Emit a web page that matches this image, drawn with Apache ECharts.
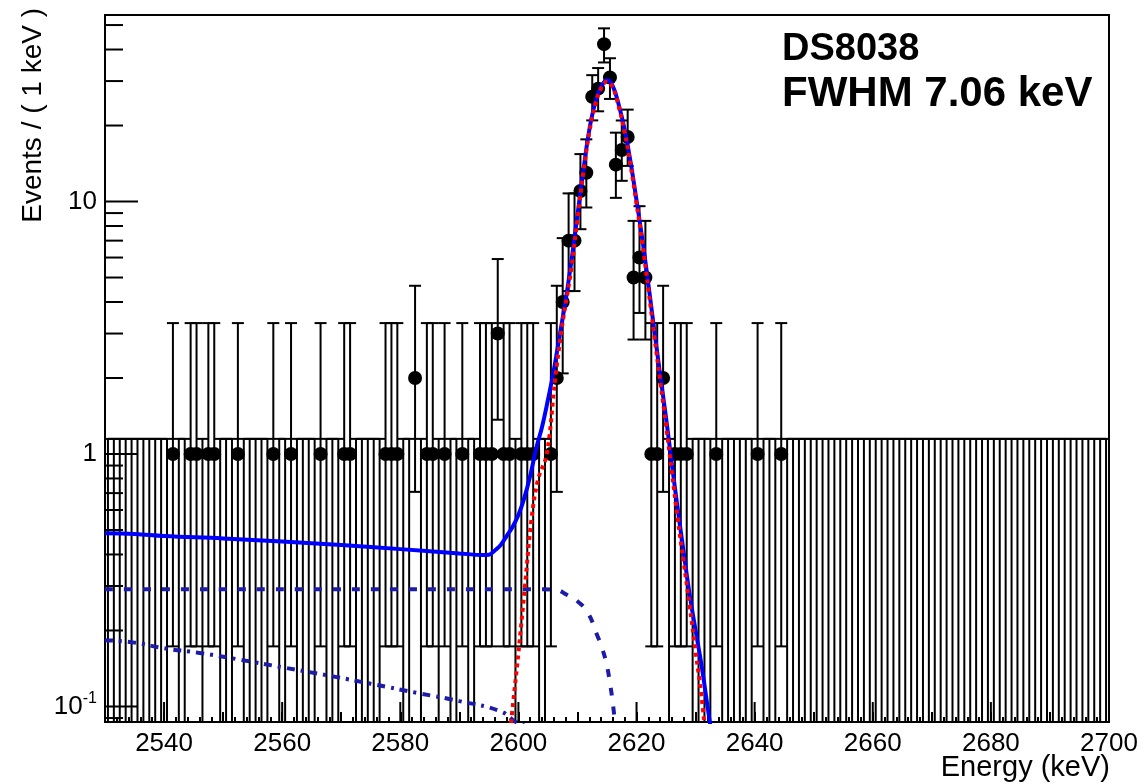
<!DOCTYPE html>
<html><head><meta charset="utf-8">
<script src="https://cdn.jsdelivr.net/npm/echarts@6/dist/echarts.min.js"></script>
<style>html,body{margin:0;padding:0;background:#fff}#c{width:1146px;height:784px}</style>
</head><body><div id="c"></div>
<script>
// ---------- axis ranges ----------
const energyMin = 2530, energyMax = 2700, binWidth = 1;
const yMin = 0.0868, yMax = 54.8;

// ---------- data: events per 1 keV bin (2530-2700) ----------
const eventCounts = [
  0,0,0,0,0,0,0,0,0,0,
  0,1,0,0,1,1,0,1,1,0,
  0,0,1,0,0,0,0,0,1,0,
  0,1,0,0,0,0,1,0,0,0,
  1,1,0,0,0,0,0,1,1,1,
  0,0,2,0,1,1,0,1,0,0,
  1,0,0,1,1,1,3,1,1,0,
  1,1,1,0,0,1,2,4,7,7,
  11,13,26,28,42,31,14,16,18,5,
  6,5,1,1,2,0,1,1,1,0,
  0,0,0,1,0,0,0,0,0,0,
  1,0,0,0,1,0,0,0,0,0,
  0,0,0,0,0,0,0,0,0,0,
  0,0,0,0,0,0,0,0,0,0,
  0,0,0,0,0,0,0,0,0,0,
  0,0,0,0,0,0,0,0,0,0,
  0,0,0,0,0,0,0,0,0,0
];
// Poisson (68%) interval per count, as drawn
const poissonN    = [0, 1, 2, 3, 4, 5, 6, 7, 11, 13, 14, 16, 18, 26, 28, 31, 42];
const poissonLow  = [0, 0.173, 0.708, 1.367, 2.086, 2.840, 3.620, 4.419, 7.77, 9.47, 10.34, 12.08, 13.84, 20.96, 22.77, 25.49, 35.55];
const poissonHigh = [1.148, 3.300, 4.638, 5.918, 7.163, 8.382, 9.584, 10.771, 15.41, 17.63, 18.74, 20.94, 23.12, 31.66, 33.78, 36.94, 48.52];

// ---------- fit curves ----------
const totalFitE = [2530,2535,2540,2550,2560,2570,2580,2590,2594,2595,2596,2597,2598,2599,2600,2601,2602,2603,2604,2605,2606,2607,2608,2609,2610,2611,2612,2613,2614,2615,2616,2617,2618,2619,2620,2621,2622,2623,2624,2625,2626,2627,2628,2629,2630,2631,2632,2633];
const totalFitV = [0.485,0.482,0.473,0.463,0.450,0.436,0.420,0.404,0.398,0.399,0.415,0.436,0.473,0.514,0.573,0.67,0.82,1.05,1.28,1.64,2.15,2.96,4.07,5.87,8.85,13.3,19.2,24.6,28.5,30.3,28.6,24.1,19.2,14.3,10.1,7.04,4.71,3.10,2.06,1.39,0.905,0.60,0.405,0.277,0.20,0.146,0.101,0.07];

const peakFitE = [2598.6,2599.1,2600.0,2601.1,2602.2,2603.3,2604.8,2606.2,2607.3,2608.2,2609,2610,2611,2612,2613,2614,2615,2616,2617,2618,2619,2620,2621,2622,2623,2624,2625,2626,2627,2628,2629,2630,2631,2631.6];
const peakFitV = [0.08,0.103,0.163,0.298,0.548,0.789,1.0,1.96,3.1,4.2,5.5,8.5,13.0,18.8,24.2,28.1,29.9,28.2,23.7,18.8,13.9,9.8,6.8,4.5,2.95,1.95,1.3,0.84,0.55,0.37,0.25,0.165,0.11,0.08];

const stepBkgE = [2530,2604.2,2606.2,2608.2,2610.1,2611.8,2613.2,2614.1,2614.9,2615.5,2616.05,2616.5];
const stepBkgV = [0.291,0.291,0.29,0.277,0.26,0.234,0.195,0.172,0.148,0.124,0.1,0.08];

const linBkgE = [2530,2535,2540,2546,2553,2560,2569,2575,2583,2590,2597,2599.5,2601];
const linBkgV = [0.183,0.179,0.170,0.163,0.153,0.143,0.131,0.123,0.113,0.105,0.0956,0.087,0.084];

// ---------- ticks / labels ----------
const xMajorTicks = [2540,2560,2580,2600,2620,2640,2660,2680,2700];
const yMajorTicks = [0.1, 1, 10];
const yMinorTicks = [0.09,0.2,0.3,0.4,0.5,0.6,0.7,0.8,0.9,2,3,4,5,6,7,8,9,20,30,40,50];
const xTitle = 'Energy (keV)';
const yTitle = 'Events / ( 1 keV )';
const infoLines = ['DS8038', 'FWHM 7.06 keV'];

const FONT = '"Liberation Sans", Arial, Helvetica, sans-serif';

// ---------- build series data ----------
const filledBins = [], emptyBins = [];
eventCounts.forEach((n, i) => {
  const center = energyMin + (i + 0.5) * binWidth;
  const k = poissonN.indexOf(n);
  if (n > 0) filledBins.push([center, n, poissonLow[k], poissonHigh[k]]);
  else emptyBins.push([center, poissonHigh[k]]);
});
const pairs = (a, b) => a.map((e, i) => [e, b[i]]);

const chart = echarts.init(document.getElementById('c'), null, {renderer: 'canvas'});
const black = {stroke: '#000', lineWidth: 2};
const CAP = 6;

const option = {
  animation: false,
  backgroundColor: '#fff',
  grid: {left: 105, top: 15, width: 1004, height: 707, show: true, borderColor: '#000', borderWidth: 2,
    backgroundColor: 'transparent', containLabel: false, outerBoundsMode: 'none'},
  xAxis: {
    type: 'value', min: energyMin, max: energyMax, interval: 10,
    axisLine: {show: true, lineStyle: {color: '#000', width: 2}},
    axisTick: {show: true, inside: true, length: 10, lineStyle: {color: '#000', width: 2}},
    minorTick: {show: true, splitNumber: 5, length: 5, lineStyle: {color: '#000', width: 2}},
    splitLine: {show: false},
    axisLabel: {color: '#000', fontSize: 26, fontFamily: FONT, margin: 9,
      formatter: v => (xMajorTicks.indexOf(v) >= 0 ? String(v) : '')}
  },
  yAxis: {
    type: 'log', logBase: 10, min: yMin, max: yMax,
    axisLine: {show: true, lineStyle: {color: '#000', width: 2}},
    axisTick: {show: false}, minorTick: {show: false}, splitLine: {show: false},
    axisLabel: {color: '#000', fontSize: 26, fontFamily: FONT, margin: 8,
      formatter: v => {
        const l = Math.log10(v), r = Math.round(l);
        if (Math.abs(l - r) > 1e-6) return '';
        if (r === 0) return '1';
        if (r === 1) return '10';
        return '{b|10}{s|' + r + '}';
      },
      rich: {
        b: {fontSize: 26, fontFamily: FONT, color: '#000'},
        s: {fontSize: 16, fontFamily: FONT, color: '#000', padding: [0, 0, 16, 0]}
      }
    }
  },
  graphic: [
    {type: 'text', left: 782, top: 31, style: {text: infoLines[0], fill: '#000', font: 'bold 38px ' + FONT}},
    {type: 'text', left: 782, top: 73, style: {text: infoLines[1], fill: '#000', font: 'bold 42px ' + FONT}},
    {type: 'text', right: 36, top: 753, style: {text: xTitle, fill: '#000', font: '29px ' + FONT}},
    {type: 'text', x: 33, y: 8, rotation: Math.PI / 2,
      style: {text: yTitle, fill: '#000', font: '28px ' + FONT, align: 'right', verticalAlign: 'middle'}}
  ],
  series: [
    { // empty bins: Poisson upper error only
      type: 'custom', name: 'empty', data: emptyBins, encode: {x: 0, y: 1}, clip: true,
      renderItem: (params, api) => {
        const x = api.value(0), hi = api.value(1);
        const t = api.coord([x, hi]), b = api.coord([x, yMin]);
        return {type: 'group', children: [
          {type: 'line', shape: {x1: t[0], y1: b[1], x2: t[0], y2: t[1]}, style: black},
          {type: 'line', shape: {x1: t[0] - CAP, y1: t[1], x2: t[0] + CAP, y2: t[1]}, style: black}
        ]};
      }
    },
    { // filled bins: asymmetric errors
      type: 'custom', name: 'errors', data: filledBins, encode: {x: 0, y: 1}, clip: true,
      renderItem: (params, api) => {
        const x = api.value(0), n = api.value(1), lo = api.value(2), hi = api.value(3);
        const t = api.coord([x, hi]), b = api.coord([x, Math.max(lo, yMin)]);
        const l = api.coord([x - binWidth / 2, n]), r = api.coord([x + binWidth / 2, n]);
        const ch = [
          {type: 'line', shape: {x1: t[0], y1: b[1], x2: t[0], y2: t[1]}, style: black},
          {type: 'line', shape: {x1: t[0] - CAP, y1: t[1], x2: t[0] + CAP, y2: t[1]}, style: black},
          {type: 'line', shape: {x1: l[0], y1: l[1], x2: r[0], y2: r[1]}, style: black}
        ];
        if (lo > yMin) ch.push({type: 'line', shape: {x1: b[0] - CAP, y1: b[1], x2: b[0] + CAP, y2: b[1]}, style: black});
        return {type: 'group', children: ch};
      }
    },
    { type: 'scatter', name: 'data', data: filledBins.map(r => [r[0], r[1]]), symbol: 'circle', symbolSize: 14,
      itemStyle: {color: '#000', opacity: 1} },
    { type: 'line', name: 'linear bkg', data: pairs(linBkgE, linBkgV), showSymbol: false, smooth: true, clip: true,
      lineStyle: {color: '#1c1ca8', width: 4, type: [8, 6, 3, 6]} },
    { type: 'line', name: 'step bkg', data: pairs(stepBkgE, stepBkgV), showSymbol: false, smooth: true, clip: true,
      lineStyle: {color: '#1c1ca8', width: 4, type: [8, 11]} },
    { type: 'line', name: 'total', data: pairs(totalFitE, totalFitV), showSymbol: false, smooth: 0.4, clip: true,
      lineStyle: {color: '#0000ff', width: 4} },
    { type: 'line', name: 'peak', data: pairs(peakFitE, peakFitV), showSymbol: false, smooth: 0.4, clip: true,
      lineStyle: {color: '#ff0000', width: 4, type: [4, 4]} },
    { // 20 keV major ticks (longer)
      type: 'custom', name: 'xmajor', data: xMajorTicks.map(v => [v, yMin]), encode: {x: 0, y: 1}, z: 10,
      renderItem: (params, api) => {
        const p = api.coord([api.value(0), yMin]);
        return {type: 'line', shape: {x1: p[0], y1: p[1], x2: p[0], y2: p[1] - 20}, style: black};
      }
    },
    { // y ticks
      type: 'custom', name: 'yticks',
      data: yMajorTicks.map(v => [energyMin, v, 33]).concat(yMinorTicks.map(v => [energyMin, v, 18])),
      encode: {x: 0, y: 1}, z: 10,
      renderItem: (params, api) => {
        const p = api.coord([energyMin, api.value(1)]);
        const len = api.value(2);
        return {type: 'line', shape: {x1: p[0], y1: p[1], x2: p[0] + len, y2: p[1]}, style: black};
      }
    }
  ]
};
chart.setOption(option);
</script>
</body></html>
